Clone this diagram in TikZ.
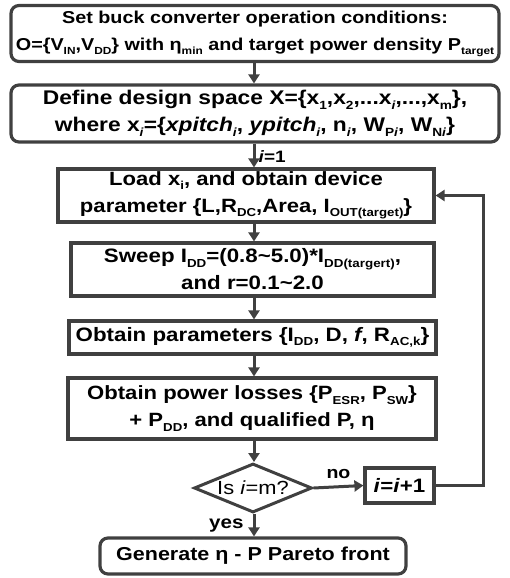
\documentclass[tikz,border=0pt]{standalone}
\usepackage{graphicx}
\usepackage{fontspec}
\setmainfont[FakeStretch=1.15]{Liberation Sans}
\usetikzlibrary{calc}
\usetikzlibrary{arrows.meta}
\usetikzlibrary{shapes.geometric}

\definecolor{linegray}{RGB}{64,64,64}
\newcommand{\sbs}[1]{\raisebox{-0.22em}{\scalebox{0.6}{#1}}}
\newcommand{\fs}[1]{\fontsize{#1}{27}\selectfont}

\tikzset{
  box/.style={draw=linegray, line width=3.2pt, align=center, inner sep=0pt, text=black},
  roundbox/.style={box, rounded corners=8pt},
  flow/.style={draw=linegray, line width=3pt, -{Triangle[length=9pt,width=11pt]}},
  lbl/.style={inner sep=0pt, text=black}
}

\begin{document}
\begin{tikzpicture} [x=1pt,y=-1pt,font=\bfseries]
\useasboundingbox (0,0) rectangle (509,578);

\node[roundbox, minimum width=488pt, minimum height=56pt, font=\fs{17.2}\bfseries] (set) at (255,33.5)
  {Set buck converter operation conditions:\\
   O=\{V\sbs{IN},V\sbs{DD}\} with η\sbs{min} and target power density P\sbs{target}};
\node[roundbox, minimum width=488pt, minimum height=57pt, font=\fs{19.8}\bfseries] (space) at (255,113.5)
  {Define design space X=\{x\sbs{1},x\sbs{2},...x\sbs{\textit{i}},...,x\sbs{m}\},\\
   where x\sbs{\textit{i}}=\{\textit{xpitch\sbs{i}}, \textit{ypitch\sbs{i}}, n\sbs{\textit{i}}, W\sbs{P\textit{i}}, W\sbs{N\textit{i}}\}};
\node[box, minimum width=376pt, minimum height=53pt, font=\fs{19.2}\bfseries] (load) at (246,195.5)
  {Load x\sbs{i}, and obtain device\\
   parameter \{L,R\sbs{DC},Area, I\sbs{OUT(target)}\}};
\node[box, minimum width=363pt, minimum height=53pt, font=\fs{19.4}\bfseries] (sweep) at (252.5,269.5)
  {Sweep I\sbs{DD}=(0.8\textasciitilde5.0)*I\sbs{DD(targert)},\\
   and r=0.1\textasciitilde2.0};
\node[box, minimum width=367pt, minimum height=33pt, font=\fs{19.4}\bfseries] (param) at (252.5,337.5)
  {Obtain parameters \{I\sbs{DD}, D, \textit{f}, R\sbs{AC,k}\}};
\node[box, minimum width=368pt, minimum height=61pt, font=\fs{19.2}\bfseries] (loss) at (252,408.5)
  {Obtain power losses \{P\sbs{ESR}, P\sbs{SW}\}\\
   + P\sbs{DD}, and qualified P, η};
\node[diamond, draw=linegray, line width=3pt, aspect=2.35, minimum width=118pt, minimum height=49pt, inner sep=0pt, font=\fs{19}\mdseries] (check) at (253,488)
  {Is \textit{i}=m?};
\node[box, minimum width=69pt, minimum height=35pt, font=\fs{19.4}\bfseries] (next) at (399.5,485.5)
  {\textit{i}=\textit{i}+1};
\node[roundbox, minimum width=306pt, minimum height=36pt, font=\fs{18.7}\bfseries] (pareto) at (253,556)
  {Generate η - P Pareto front};

\coordinate (ax) at (254,0);
\coordinate (loop) at (483,0);

\draw[flow] (set.south -| ax) -- (space.north -| ax);
\draw[flow] (space.south -| ax) -- (load.north -| ax)
  node[lbl, right, pos=0.55, xshift=3pt, font=\fs{16.5}\bfseries] {\textit{i}=1};
\draw[flow] (load.south -| ax) -- (sweep.north -| ax);
\draw[flow] (sweep.south -| ax) -- (param.north -| ax);
\draw[flow] (param.south -| ax) -- (loss.north -| ax);
\draw[flow] (loss.south -| ax) -- (check.north -| ax);
\draw[flow] (check.east) -- (next.west)
  node[lbl, above, midway, yshift=7pt, font=\fs{17}\bfseries] {no};
\draw[flow] (check.south -| ax) -- (pareto.north -| ax)
  node[lbl, left, midway, xshift=-9pt, font=\fs{17.9}\bfseries] {yes};
\draw[flow] (next.east) -- (next.east -| loop) -- (load.east -| loop) -- (load.east);
\end{tikzpicture}
\end{document}
